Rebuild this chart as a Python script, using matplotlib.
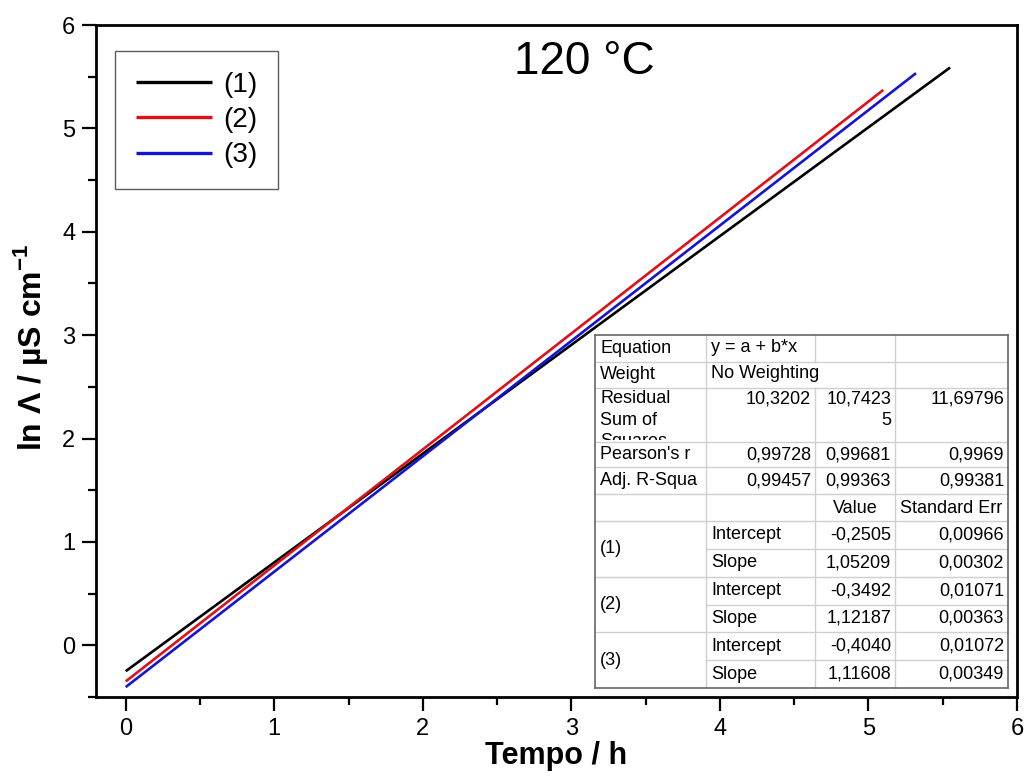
import matplotlib
matplotlib.use("Agg")
import matplotlib.pyplot as plt
from matplotlib.ticker import MultipleLocator
from matplotlib.lines import Line2D
from matplotlib.transforms import Bbox, TransformedBbox

plt.rcParams['font.family'] = ['Liberation Sans', 'DejaVu Sans']
plt.rcParams['mathtext.fontset'] = 'custom'
plt.rcParams['mathtext.rm'] = 'Liberation Sans'
plt.rcParams['mathtext.bf'] = 'Liberation Sans:bold'

series_labels = ["(1)", "(2)", "(3)"]
colors = ["#000000", "#e0101a", "#1414d2"]
x_start = [0.0, 0.0, 0.0]
x_end = [5.55, 5.10, 5.32]
y_start = [-0.2505, -0.3492, -0.4040]
y_end = [5.589, 5.372, 5.534]

table_rows = [
    ["Equation", "y = a + b*x", "", ""],
    ["Weight", "No Weighting", "", ""],
    ["Residual\nSum of\nSquares", "10,3202", "10,7423\n5", "11,69796"],
    ["Pearson's r", "0,99728", "0,99681", "0,9969"],
    ["Adj. R-Squa", "0,99457", "0,99363", "0,99381"],
    ["", "", "Value", "Standard Err"],
]
fit_groups = ["(1)", "(2)", "(3)"]
fit_params = ["Intercept", "Slope"]
fit_values = [["-0,2505", "1,05209"], ["-0,3492", "1,12187"], ["-0,4040", "1,11608"]]
fit_errors = [["0,00966", "0,00302"], ["0,01071", "0,00363"], ["0,01072", "0,00349"]]

W, H = 1029, 780
fig = plt.figure(figsize=(W / 100, H / 100), dpi=100)
ax = fig.add_axes([96 / W, (H - 697) / H, (1017 - 96) / W, (697 - 25) / H])

for i in range(3):
    ax.plot([x_start[i], x_end[i]], [y_start[i], y_end[i]], color=colors[i], lw=1.9,
            label=series_labels[i], solid_capstyle='butt')

ax.set_xlim(-0.2, 6)
ax.set_ylim(-0.5, 6)
ax.xaxis.set_major_locator(MultipleLocator(1))
ax.xaxis.set_minor_locator(MultipleLocator(0.5))
ax.yaxis.set_major_locator(MultipleLocator(1))
ax.yaxis.set_minor_locator(MultipleLocator(0.5))
ax.tick_params(which='major', direction='out', length=10, width=1.6, labelsize=17, pad=5)
ax.tick_params(which='minor', direction='out', length=6, width=1.6)
for s in ax.spines.values():
    s.set_linewidth(2)
ax.set_xlabel("Tempo / h", fontsize=22, fontweight='bold', labelpad=1)
ax.set_ylabel(r"ln Λ / µS cm$^{\mathbf{-1}}$", fontsize=23, fontweight='bold')
ax.yaxis.set_label_coords(-0.05, 0.52)
ax.text(3.09, 5.64, "120 °C", fontsize=33, ha='center', va='center')

leg = ax.legend(loc='upper left', bbox_to_anchor=(0.0206, 0.961), fontsize=20, handlelength=2.75,
                frameon=True, fancybox=False, edgecolor='#333333', borderpad=0.75,
                labelspacing=0.33, handletextpad=0.4, borderaxespad=0)
leg.get_frame().set_linewidth(1.0)
for h in leg.legend_handles:
    h.set_linewidth(2.4)

# Table drawn in pixel coordinates
def fx(px):
    return px / W

def fy(py):
    return (H - py) / H

col_x = [595, 706, 815, 895, 1008]
row_y = [335, 362, 388, 442, 467, 494, 521]
sub_h = (688 - 521) / 6
for k in range(1, 7):
    row_y.append(521 + k * sub_h)

grid_c = '#cfcfcf'
tr = fig.transFigure
fig.patches.append(plt.Rectangle((fx(595), fy(688)), fx(1008) - fx(595), fy(335) - fy(688),
                                 transform=tr, facecolor='white', edgecolor='none', zorder=5))

def hline(y, x0, x1, c=grid_c, lw=1):
    fig.add_artist(Line2D([fx(x0), fx(x1)], [fy(y), fy(y)], transform=tr, color=c, lw=lw, zorder=6))

def vline(x, y0, y1, c=grid_c, lw=1):
    fig.add_artist(Line2D([fx(x), fx(x)], [fy(y0), fy(y1)], transform=tr, color=c, lw=lw, zorder=6))

for i, y in enumerate(row_y[1:-1], start=1):
    if i >= 6 and (i - 6) % 2 == 1:
        hline(y, col_x[1], col_x[4])
    else:
        hline(y, col_x[0], col_x[4])
vline(col_x[1], 335, 688)
vline(col_x[2], 335, 362)
vline(col_x[2], 388, 688)
vline(col_x[3], 335, 688)
# outer border
hline(335, 595, 1008, c='#666666', lw=1.2)
hline(688, 595, 1008, c='#666666', lw=1.2)
vline(595, 335, 688, c='#666666', lw=1.2)
vline(1008, 335, 688, c='#666666', lw=1.2)

fs = 13
tkw = dict(transform=tr, fontsize=fs, zorder=7, va='center')
for r, row in enumerate(table_rows):
    y0, y1 = row_y[r], row_y[r + 1]
    yc = (y0 + y1) / 2
    if r == 2:
        top = y0 + 2
        t = fig.text(fx(col_x[0] + 5), fy(top), row[0], ha='left', va='top', transform=tr,
                     fontsize=fs, zorder=7, linespacing=1.35)
        t.set_clip_on(True)
        t.set_clip_box(TransformedBbox(Bbox.from_extents(fx(col_x[0]), fy(y1 - 2), fx(col_x[1]), fy(y0)), tr))
        fig.text(fx(col_x[2] - 4), fy(top), row[1], ha='right', va='top', transform=tr,
                 fontsize=fs, zorder=7)
        fig.text(fx(col_x[3] - 4), fy(top), row[2], ha='right', va='top', transform=tr,
                 fontsize=fs, zorder=7, multialignment='right', linespacing=1.35)
        fig.text(fx(col_x[4] - 4), fy(top), row[3], ha='right', va='top', transform=tr,
                 fontsize=fs, zorder=7)
        continue
    if r in (0, 1):
        fig.text(fx(col_x[0] + 5), fy(yc), row[0], ha='left', **tkw)
        fig.text(fx(col_x[1] + 5), fy(yc - 1), row[1], ha='left', **tkw)
    elif r == 5:
        fig.text(fx((col_x[2] + col_x[3]) / 2), fy(yc + 1), row[2], ha='center', **tkw)
        fig.text(fx((col_x[3] + col_x[4]) / 2), fy(yc + 1), row[3], ha='center', **tkw)
    else:
        fig.text(fx(col_x[0] + 5), fy(yc), row[0], ha='left', **tkw)
        fig.text(fx(col_x[2] - 4), fy(yc), row[1], ha='right', **tkw)
        fig.text(fx(col_x[3] - 4), fy(yc), row[2], ha='right', **tkw)
        fig.text(fx(col_x[4] - 4), fy(yc), row[3], ha='right', **tkw)

for g in range(3):
    ya = row_y[6 + 2 * g]
    yb = row_y[8 + 2 * g]
    fig.text(fx(col_x[0] + 5), fy((ya + yb) / 2), fit_groups[g], ha='left', **tkw)
    for p in range(2):
        yc = (row_y[6 + 2 * g + p] + row_y[7 + 2 * g + p]) / 2
        fig.text(fx(col_x[1] + 5), fy(yc), fit_params[p], ha='left', **tkw)
        fig.text(fx(col_x[3] - 4), fy(yc), fit_values[g][p], ha='right', **tkw)
        fig.text(fx(col_x[4] - 4), fy(yc), fit_errors[g][p], ha='right', **tkw)

fig.savefig("out.png", dpi=100)
